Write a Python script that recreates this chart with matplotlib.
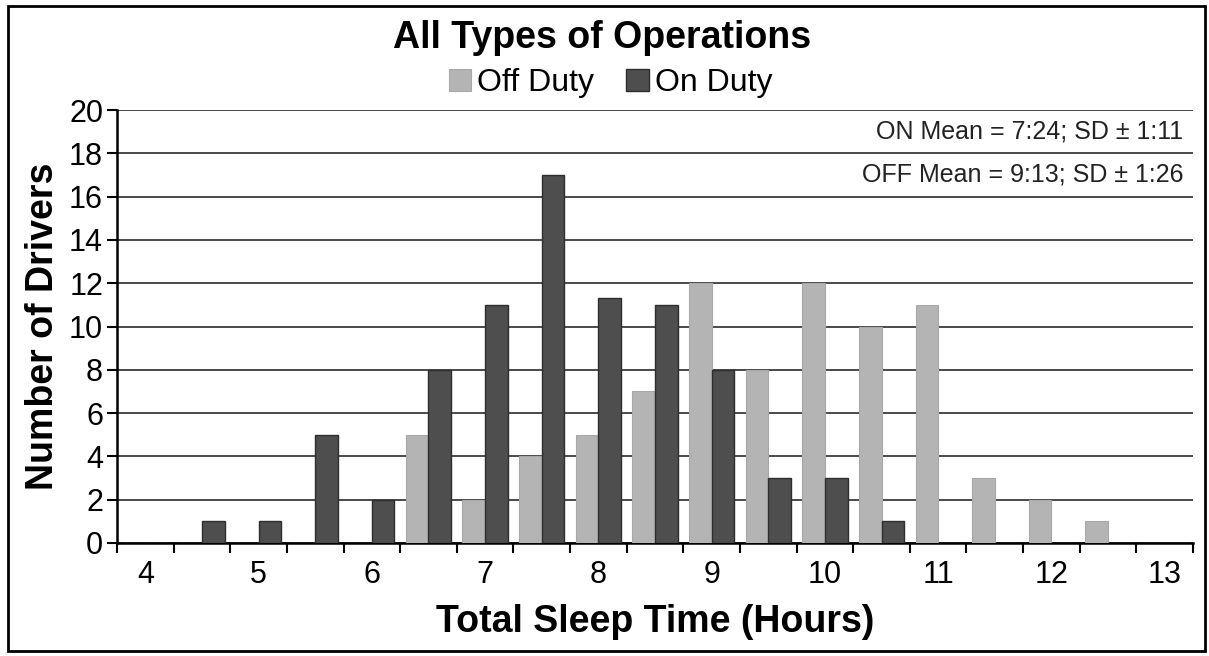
import matplotlib.pyplot as plt
import matplotlib.patches as patches
from matplotlib.transforms import blended_transform_factory
import numpy as np

plt.rcParams['font.family'] = ['Liberation Sans', 'DejaVu Sans']

# half-hour bins of total sleep time
hours = [4, 4.5, 5, 5.5, 6, 6.5, 7, 7.5, 8, 8.5, 9, 9.5, 10, 10.5, 11, 11.5, 12, 12.5, 13]
off_duty = [0, 0, 0, 0, 0, 5, 2, 4, 5, 7, 12, 8, 12, 10, 11, 3, 2, 1, 0]
on_duty = [0, 1, 1, 5, 2, 8, 11, 17, 11.3, 11, 8, 3, 3, 1, 0, 0, 0, 0, 0]
y_ticks = [0, 2, 4, 6, 8, 10, 12, 14, 16, 18, 20]
on_note = "ON Mean = 7:24; SD \u00b1 1:11"
off_note = "OFF Mean = 9:13; SD \u00b1 1:26"

fig = plt.figure(figsize=(12.09, 6.56), dpi=100)
ax = fig.add_axes([117 / 1209, 1 - 543 / 656, (1193 - 117) / 1209, (543 - 110) / 656])

x = np.arange(len(hours))
w = 0.4
b1 = ax.bar(x - w / 2, off_duty, w, color='#b4b4b4', edgecolor='#a8a8a8', linewidth=0.8,
            label='Off Duty', zorder=3)
b2 = ax.bar(x + w / 2, on_duty, w, color='#4e4e4e', edgecolor='#2e2e2e', linewidth=1.0,
            label='On Duty', zorder=3)

ax.set_xlim(-0.5, len(hours) - 0.5)
ax.set_ylim(0, 20)
ax.set_yticks(y_ticks)
ax.set_yticklabels([str(v) for v in y_ticks], fontsize=22)
ax.yaxis.grid(True, color='#4a4a4a', linewidth=1.4)
ax.set_axisbelow(True)

# tick marks between categories, labels on whole hours
ax.set_xticks(np.arange(len(hours) + 1) - 0.5)
ax.set_xticklabels([])
ax.set_xticks([i for i, h in enumerate(hours) if h == int(h)], minor=True)
ax.set_xticklabels([str(int(h)) for h in hours if h == int(h)], minor=True, fontsize=22)
ax.tick_params(axis='x', which='major', length=7, width=1.5, direction='out')
ax.tick_params(axis='x', which='minor', length=0, pad=12)
ax.tick_params(axis='y', length=7, width=1.5, pad=3)

for s in ['top', 'right']:
    ax.spines[s].set_visible(False)
for s in ['left', 'bottom']:
    ax.spines[s].set_linewidth(1.8)
    ax.spines[s].set_color('black')

ax.set_xlabel('Total Sleep Time (Hours)', fontsize=27, fontweight='bold', labelpad=10)
ax.set_ylabel('Number of Drivers', fontsize=27, fontweight='bold', labelpad=6)

tr = blended_transform_factory(ax.transAxes, ax.transData)
ax.text(0.991, 19, on_note, transform=tr, ha='right', va='center', fontsize=18, color='#222222')
ax.text(0.991, 17, off_note, transform=tr, ha='right', va='center', fontsize=18, color='#222222')

fig.text(0.498, 0.942, 'All Types of Operations', ha='center', va='center',
         fontsize=27, fontweight='bold')
fig.legend(handles=[b1, b2], loc='center', bbox_to_anchor=(0.505, 0.873), ncol=2,
           frameon=False, fontsize=23, handlelength=0.7, handleheight=0.7,
           handletextpad=0.2, columnspacing=1.0, borderaxespad=0)

fig.patches.append(patches.Rectangle((8 / 1209, 1 - 651 / 656), 1197 / 1209, 645 / 656,
                                     transform=fig.transFigure, fill=False,
                                     edgecolor='black', linewidth=2))

fig.savefig('out.png', dpi=100)
